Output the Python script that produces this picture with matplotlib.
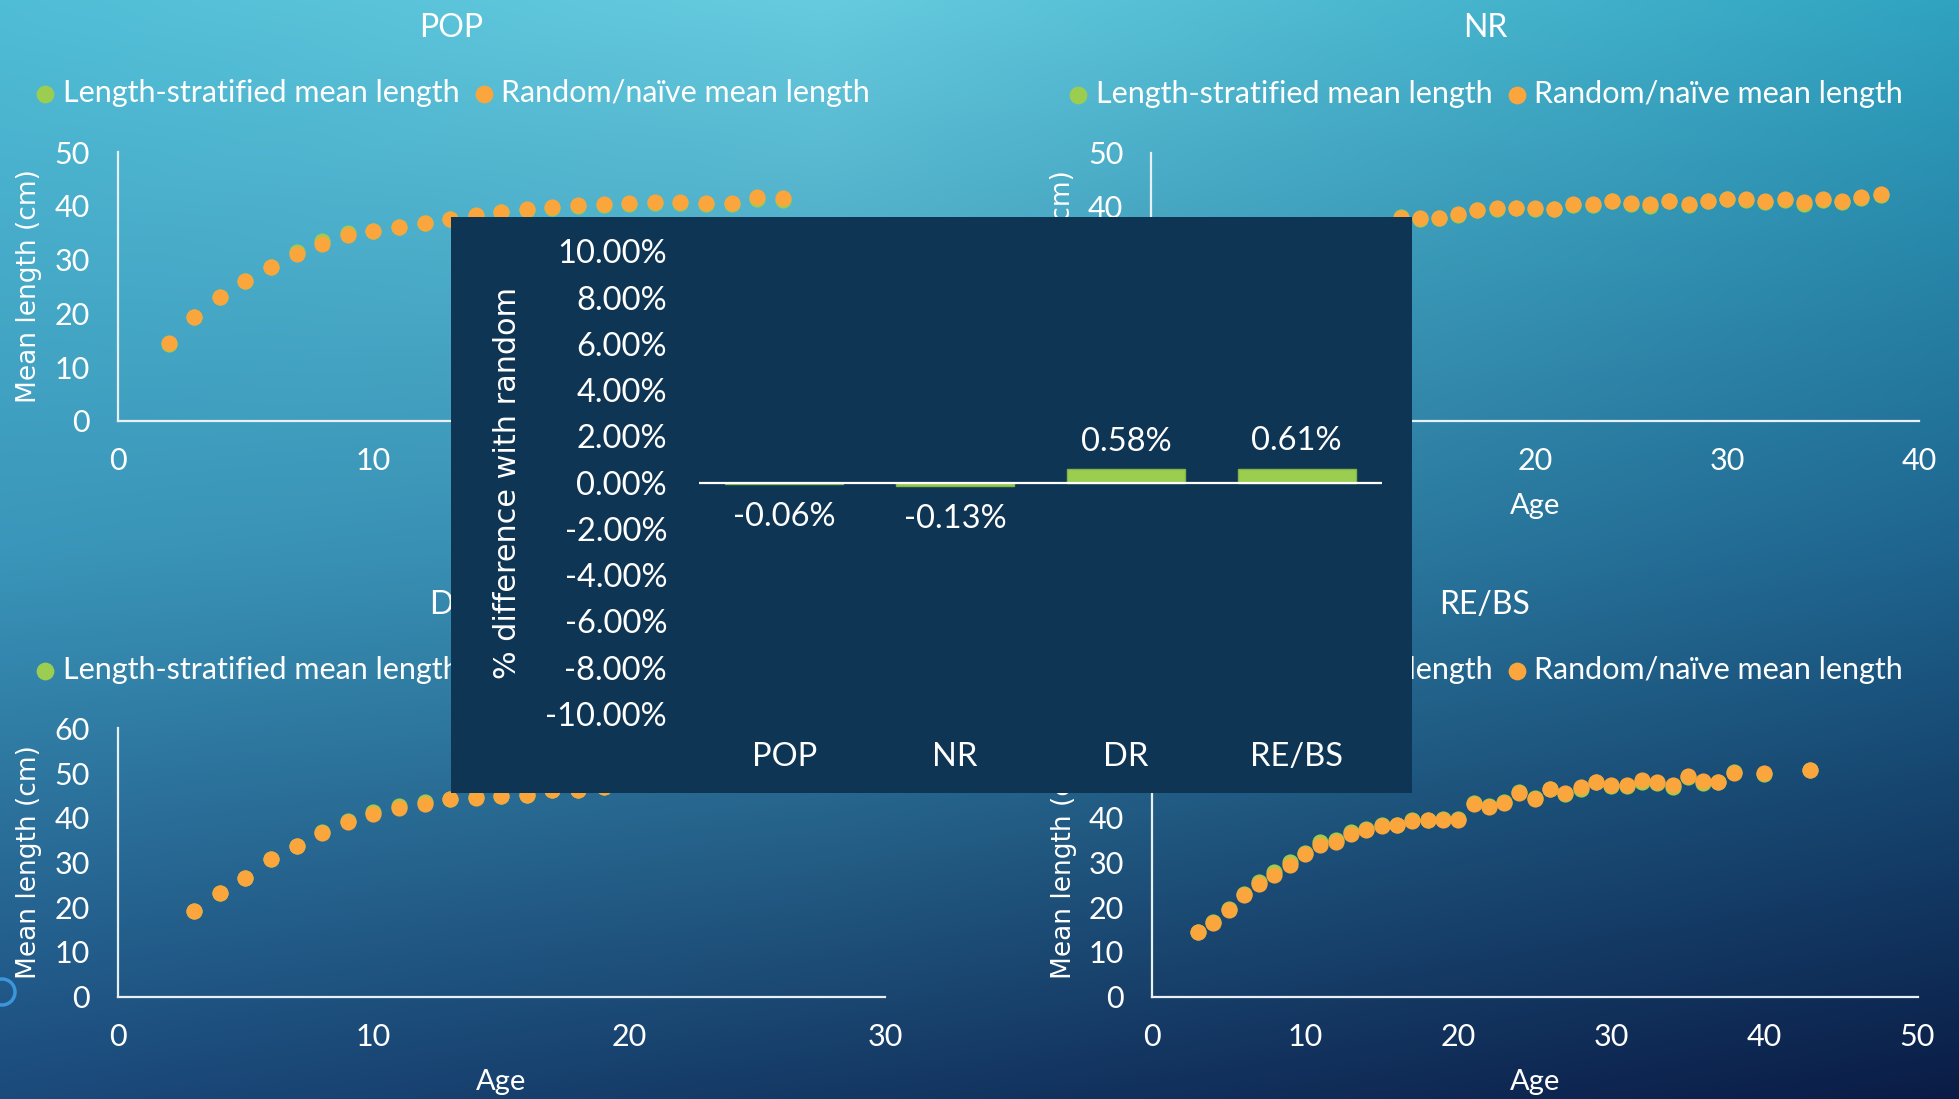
import numpy as np
import matplotlib
matplotlib.use("Agg")
import matplotlib.pyplot as plt
from matplotlib.patches import Circle

plt.rcParams['font.family'] = ['Lato', 'DejaVu Sans']

# mean length at age, per stock: stratified vs random/naive estimator
pop_age = list(range(2, 27))
pop_strat = [14.3, 19.4, 23.1, 26.0, 28.7, 31.4, 33.5, 35.0, 35.4, 36.0, 36.8, 37.5, 38.2,
             38.8, 39.3, 39.7, 40.0, 40.2, 40.3, 40.6, 40.6, 40.4, 40.4, 41.3, 41.1]
pop_naive = [14.4, 19.4, 23.1, 26.0, 28.7, 31.0, 33.0, 34.6, 35.4, 36.0, 36.9, 37.6, 38.3,
             38.9, 39.4, 39.9, 40.2, 40.4, 40.5, 40.8, 40.8, 40.6, 40.6, 41.6, 41.5]

nr_age = list(range(3, 39))
nr_strat = [17.4, 21.4, 24.9, 27.9, 30.4, 32.4, 33.9, 34.9, 35.7, 36.3, 38.0, 37.7, 37.8,
            38.5, 39.3, 39.6, 39.7, 39.6, 39.5, 40.3, 40.3, 41.0, 40.5, 40.2, 41.0, 40.3,
            41.0, 41.4, 41.3, 40.9, 41.3, 40.5, 41.3, 40.8, 41.6, 42.1]
nr_naive = [17.5, 21.5, 25.0, 28.0, 30.5, 32.5, 34.0, 35.0, 35.8, 36.4, 37.8, 37.8, 37.9,
            38.6, 39.4, 39.7, 39.8, 39.7, 39.6, 40.4, 40.4, 41.1, 40.7, 40.4, 41.1, 40.4,
            41.1, 41.5, 41.4, 41.1, 41.5, 40.8, 41.5, 41.0, 41.8, 42.4]

dr_age = list(range(3, 22))
dr_strat = [19.1, 23.1, 26.5, 30.8, 33.8, 36.8, 39.2, 41.3, 42.6, 43.5, 44.3, 44.6, 44.9,
            45.0, 46.2, 46.3, 46.8, 47.7, 48.1]
dr_naive = [19.1, 23.1, 26.5, 30.8, 33.8, 36.7, 39.0, 40.8, 42.1, 43.1, 44.1, 44.5, 44.8,
            45.0, 46.2, 46.3, 46.8, 47.6, 48.0]

re_age = list(range(3, 39)) + [40, 43]
re_strat = [14.5, 16.6, 19.5, 22.9, 25.6, 27.8, 30.1, 32.2, 34.6, 35.1, 36.8, 37.6, 38.5,
            38.5, 39.5, 39.6, 39.7, 39.8, 43.4, 42.7, 43.5, 45.8, 44.4, 46.5, 45.3, 46.5,
            48.0, 47.1, 47.1, 48.0, 47.8, 46.9, 49.2, 47.8, 47.9, 50.3, 49.8, 50.7]
re_naive = [14.5, 16.5, 19.4, 22.7, 25.2, 27.3, 29.5, 31.8, 34.0, 34.5, 36.3, 37.2, 38.2,
            38.3, 39.2, 39.4, 39.6, 39.6, 43.1, 42.5, 43.3, 45.6, 44.2, 46.4, 45.6, 46.9,
            48.1, 47.3, 47.3, 48.5, 48.0, 47.3, 49.3, 48.3, 48.1, 50.1, 50.1, 50.8]

# summary: % difference of stratified vs random
stocks = ['POP', 'NR', 'DR', 'RE/BS']
diff_pct = [-0.06, -0.13, 0.58, 0.61]

GREEN = '#9BCD50'
ORANGE = '#FBA63C'
PANEL = '#0F3555'

W, H = 1959, 1099
fig = plt.figure(figsize=(W / 100, H / 100), dpi=100)


def box(x0, y0, x1, y1):
    return [x0 / W, 1 - y1 / H, (x1 - x0) / W, (y1 - y0) / H]


# slide background gradient
bg = fig.add_axes([0, 0, 1, 1], zorder=-10)
grid = np.array([
    [[80, 189, 214], [102, 203, 222], [47, 163, 192]],
    [[58, 150, 186], [55, 140, 175], [30, 100, 142]],
    [[27, 74, 124], [20, 56, 100], [10, 28, 70]],
], dtype=float) / 255
gx = np.array([0.0, 0.42, 1.0])
gy = np.array([0.0, 0.5, 1.0])
xs = np.linspace(0, 1, 400)
ys = np.linspace(0, 1, 225)
rows = np.empty((3, len(xs), 3))
for i in range(3):
    for c in range(3):
        rows[i, :, c] = np.interp(xs, gx, grid[i, :, c])
img = np.empty((len(ys), len(xs), 3))
for j in range(len(xs)):
    for c in range(3):
        img[:, j, c] = np.interp(ys, gy, rows[:, j, c])
bg.imshow(img, extent=[0, W, H, 0], aspect='auto', interpolation='bilinear')
bg.set_xlim(0, W)
bg.set_ylim(H, 0)
bg.add_patch(Circle((2, 992), 13, fill=False, edgecolor='#3C96DC', lw=2.5))
bg.axis('off')


def growth_panel(pos, title, title_xy, legend_xy, age, strat, naive, xmax, ymax):
    ax = fig.add_axes(box(*pos))
    ax.patch.set_alpha(0)
    ax.scatter(age, strat, s=135, color=GREEN, linewidths=0, zorder=3,
               label='Length-stratified mean length', clip_on=False)
    ax.scatter(age, naive, s=135, color=ORANGE, linewidths=0, zorder=4,
               label='Random/naïve mean length', clip_on=False)
    ax.set_xlim(0, xmax)
    ax.set_ylim(0, ymax)
    ax.set_xticks(np.arange(0, xmax + 1, 10))
    ax.set_yticks(np.arange(0, ymax + 1, 10))
    for side in ['top', 'right']:
        ax.spines[side].set_visible(False)
    for side in ['left', 'bottom']:
        ax.spines[side].set_color('#E8F0F4')
        ax.spines[side].set_linewidth(1.6)
    ax.tick_params(length=0, labelsize=22, labelcolor='white')
    ax.tick_params(axis='y', pad=20)
    ax.tick_params(axis='x', pad=19)
    ax.set_xlabel('Age', fontsize=21, color='white')
    ax.xaxis.set_label_coords(0.5, -72 / (pos[3] - pos[1]))
    ax.set_ylabel('Mean length (cm)', fontsize=19, color='white',
                  family='DejaVu Sans')
    ax.yaxis.set_label_coords(-75 / (pos[2] - pos[0]), 0.5)
    ax.legend(loc='center left', bbox_to_anchor=(legend_xy[0] / W, 1 - legend_xy[1] / H),
              bbox_transform=fig.transFigure, ncol=2, frameon=False, fontsize=22,
              labelcolor='white', handletextpad=0.12, columnspacing=0.35,
              handlelength=0.9, scatterpoints=1, markerscale=1.1)
    fig.text(title_xy[0] / W, 1 - title_xy[1] / H, title, fontsize=23, color='white',
             ha='center', va='center')
    return ax


growth_panel((117.5, 152.3, 885, 420.7), 'POP', (451, 28), (4, 93),
             pop_age, pop_strat, pop_naive, 30, 50)
growth_panel((1151, 153, 1919, 421), 'NR', (1485, 28), (1037, 94),
             nr_age, nr_strat, nr_naive, 40, 50)
growth_panel((117.5, 728.4, 885, 996.6), 'DR', (451, 605), (4, 670),
             dr_age, dr_strat, dr_naive, 30, 60)
growth_panel((1152, 728.4, 1917.5, 996.6), 'RE/BS', (1485, 605), (1037, 670),
             re_age, re_strat, re_naive, 50, 60)

# summary bar chart on its own dark panel
pnl = fig.add_axes(box(451, 217, 1412, 793), zorder=5)
pnl.set_facecolor(PANEL)
pnl.set_xticks([])
pnl.set_yticks([])
for s in pnl.spines.values():
    s.set_visible(False)

bx = fig.add_axes(box(699, 251.4, 1382, 714), zorder=6)
bx.patch.set_alpha(0)
x = np.arange(len(stocks))
bx.bar(x, diff_pct, width=0.69, color=GREEN, edgecolor='#82B447', linewidth=1, zorder=2)
bx.axhline(0, color='white', lw=1.6, zorder=3)
bx.set_xlim(-0.5, len(stocks) - 0.5)
bx.set_ylim(-10, 10)
yt = np.arange(-10, 11, 2)
bx.set_yticks(yt)
bx.set_yticklabels([f'{v:.2f}%' for v in yt])
bx.set_xticks(x)
bx.set_xticklabels(stocks)
for s in bx.spines.values():
    s.set_visible(False)
bx.tick_params(length=0, labelsize=23.5, labelcolor='white')
bx.tick_params(axis='y', pad=23)
bx.tick_params(axis='x', pad=20)
bx.set_ylabel('% difference with random', fontsize=21.8, color='white',
              family='DejaVu Sans')
bx.yaxis.set_label_coords((522 - 699) / (1382 - 699), 0.5)
for xi, v in zip(x, diff_pct):
    if v >= 0:
        bx.annotate(f'{v:.2f}%', (xi, v), xytext=(0, 9), textcoords='offset points',
                    ha='center', va='bottom', fontsize=23.5, color='white')
    else:
        bx.annotate(f'{v:.2f}%', (xi, v), xytext=(0, -13), textcoords='offset points',
                    ha='center', va='top', fontsize=23.5, color='white')

fig.savefig('out.png', dpi=100)
